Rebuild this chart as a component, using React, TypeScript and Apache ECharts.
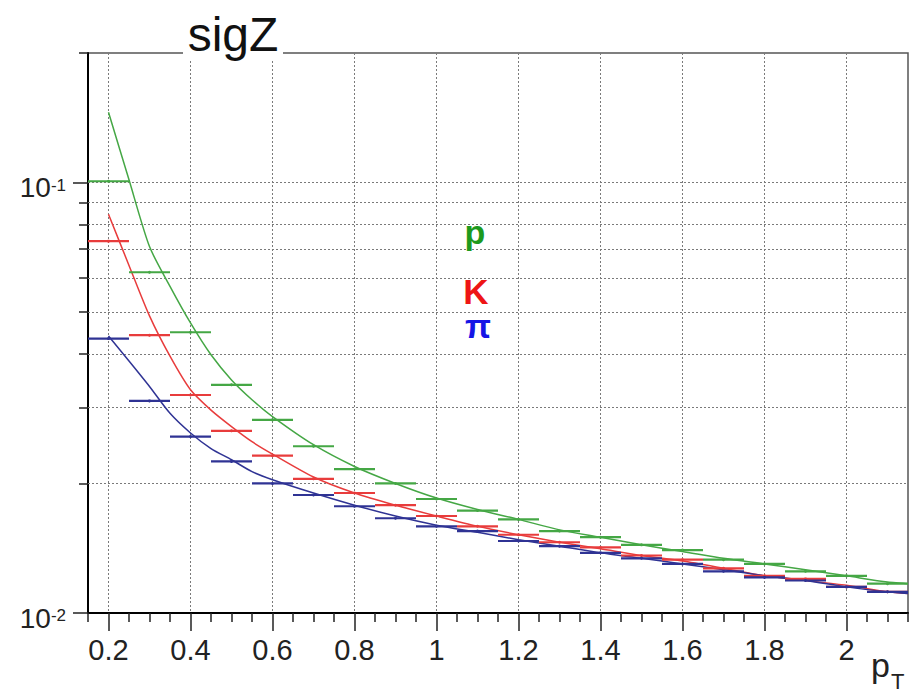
import React, { useEffect, useRef } from "react";
import * as echarts from "echarts";

// ---- data ----
const binCenters = [0.2, 0.3, 0.4, 0.5, 0.6, 0.7, 0.8, 0.9, 1.0, 1.1, 1.2, 1.3, 1.4, 1.5, 1.6, 1.7, 1.8, 1.9, 2.0, 2.1];
const binHalfWidth = 0.05;
const protonBins = [0.1007, 0.0619, 0.0449, 0.0339, 0.0281, 0.0244, 0.0216, 0.0200, 0.0184, 0.0173, 0.0165, 0.0155, 0.0150, 0.0144, 0.0140, 0.0133, 0.0130, 0.0125, 0.0122, 0.0117];
const kaonBins = [0.0731, 0.0442, 0.0321, 0.0265, 0.0232, 0.0205, 0.0190, 0.0178, 0.0168, 0.0159, 0.0152, 0.0146, 0.0142, 0.0136, 0.0133, 0.0127, 0.0122, 0.0120, 0.0115, 0.0112];
const pionBins = [0.0434, 0.0311, 0.0257, 0.0225, 0.0200, 0.0188, 0.0177, 0.0166, 0.0159, 0.0155, 0.0147, 0.0143, 0.0138, 0.0134, 0.0130, 0.0125, 0.0121, 0.0119, 0.0115, 0.0112];

const curveX = [0.2, 0.25, 0.3, 0.35, 0.4, 0.45, 0.5, 0.55, 0.6, 0.7, 0.8, 0.9, 1.0, 1.1, 1.2, 1.3, 1.4, 1.5, 1.6, 1.7, 1.8, 1.9, 2.0, 2.1, 2.15];
const protonCurve = [0.1456, 0.1015, 0.0710, 0.0574, 0.0472, 0.0398, 0.0348, 0.0313, 0.0286, 0.0246, 0.0219, 0.0200, 0.0185, 0.0174, 0.0165, 0.0156, 0.0150, 0.0144, 0.0139, 0.0134, 0.0130, 0.0126, 0.0122, 0.0118, 0.0117];
const kaonCurve = [0.0844, 0.0642, 0.0490, 0.0395, 0.0330, 0.0296, 0.0271, 0.0250, 0.0234, 0.0207, 0.0190, 0.0178, 0.0168, 0.0159, 0.0152, 0.0146, 0.0141, 0.0136, 0.0132, 0.0127, 0.0122, 0.0119, 0.0116, 0.0112, 0.0111];
const pionCurve = [0.0440, 0.0385, 0.0336, 0.0291, 0.0262, 0.0241, 0.0227, 0.0213, 0.0204, 0.0190, 0.0178, 0.0168, 0.0160, 0.0154, 0.0148, 0.0143, 0.0138, 0.0134, 0.0130, 0.0126, 0.0122, 0.0119, 0.0115, 0.0112, 0.0111];

const xMajorTicks = [0.2, 0.4, 0.6, 0.8, 1.0, 1.2, 1.4, 1.6, 1.8, 2.0];
const xMinorTicks = [0.15, 0.25, 0.3, 0.35, 0.45, 0.5, 0.55, 0.65, 0.7, 0.75, 0.85, 0.9, 0.95, 1.05, 1.1, 1.15, 1.25, 1.3, 1.35, 1.45, 1.5, 1.55, 1.65, 1.7, 1.75, 1.85, 1.9, 1.95, 2.05, 2.1, 2.15];
const yMajorTicks = [0.01, 0.1];
const yMinorTicks = [0.02, 0.03, 0.04, 0.05, 0.06, 0.07, 0.08, 0.09, 0.2];
const yGridLines = [0.02, 0.03, 0.04, 0.05, 0.06, 0.07, 0.08, 0.09, 0.1];

const GREEN_LINE = "#45a745";
const RED_LINE = "#e83c3c";
const BLUE_LINE = "#2f3394";
const FONT = "Liberation Sans, Arial, Helvetica, sans-serif";

function pairs(xs: number[], ys: number[]) {
  return xs.map((x, i) => [x, ys[i]]);
}

function histSeries(name: string, values: number[], color: string) {
  return {
    name,
    type: "custom",
    z: 4,
    silent: true,
    clip: false,
    data: pairs(binCenters, values),
    encode: { x: 0, y: 1 },
    renderItem: (_params: any, api: any) => {
      const x = api.value(0);
      const y = api.value(1);
      const a = api.coord([x - binHalfWidth, y]);
      const b = api.coord([x + binHalfWidth, y]);
      const c = api.coord([x, y]);
      return {
        type: "group",
        children: [
          {
            type: "line",
            shape: { x1: a[0], y1: a[1], x2: b[0], y2: b[1] },
            style: { stroke: color, lineWidth: 2.2 },
          },
          {
            type: "circle",
            shape: { cx: c[0], cy: c[1], r: 1.5 },
            style: { fill: color },
          },
        ],
      };
    },
  };
}

function curveSeries(name: string, values: number[], color: string) {
  return {
    name,
    type: "line",
    z: 3,
    silent: true,
    showSymbol: false,
    symbol: "none",
    smooth: 0.25,
    data: pairs(curveX, values),
    lineStyle: { color, width: 1.5 },
  };
}

function yLabel(v: number) {
  const e = Math.round(Math.log10(v));
  if (Math.abs(Math.log10(v) - e) > 1e-6) return "";
  return "{b|10}{s|" + e + "}";
}

export default function App() {
  const ref = useRef<HTMLDivElement>(null);

  useEffect(() => {
    if (!ref.current) return;
    const chart = echarts.init(ref.current, undefined, { renderer: "svg" });
    const gridLine = { color: "#7a7a7a", width: 1, type: [2, 2] as any };

    const option: any = {
      animation: false,
      backgroundColor: "#ffffff",
      grid: {
        left: 88,
        right: 4,
        top: 53,
        bottom: 82,
        show: true,
        borderColor: "#555",
        borderWidth: 1.5,
        backgroundColor: "transparent",
        containLabel: false,
        outerBoundsMode: "none",
      },
      xAxis: [
        {
          type: "value",
          min: 0.15,
          max: 2.15,
          position: "bottom",
          axisLine: { show: true, onZero: false, lineStyle: { color: "#000", width: 2 } },
          axisTick: { show: true, inside: false, length: 18, customValues: xMajorTicks, lineStyle: { color: "#222", width: 1.5 } },
          axisLabel: {
            show: true,
            customValues: xMajorTicks,
            margin: 22,
            fontSize: 29,
            color: "#222",
            fontFamily: FONT,
            formatter: (v: number) => String(Math.round(v * 10) / 10),
          },
          splitLine: { show: true, lineStyle: gridLine },
        },
        {
          type: "value",
          min: 0.15,
          max: 2.15,
          position: "bottom",
          axisLine: { show: false, onZero: false },
          axisTick: { show: true, inside: false, length: 9, customValues: xMinorTicks, lineStyle: { color: "#222", width: 1.5 } },
          axisLabel: { show: false },
          splitLine: { show: false },
        },
      ],
      yAxis: [
        {
          type: "log",
          logBase: 10,
          min: 0.01,
          max: 0.2,
          position: "left",
          axisLine: { show: true, onZero: false, lineStyle: { color: "#000", width: 2 } },
          axisTick: { show: true, inside: false, length: 15, customValues: yMajorTicks, lineStyle: { color: "#222", width: 1.5 } },
          axisLabel: {
            show: true,
            customValues: yMajorTicks,
            margin: 22,
            formatter: yLabel,
            padding: [10, 0, 0, 0],
            rich: {
              b: { fontSize: 28, color: "#222", fontFamily: FONT },
              s: { fontSize: 17, color: "#222", fontFamily: FONT, padding: [0, 0, 5, 0] },
            },
          },
          splitLine: { show: false },
        },
        {
          type: "log",
          logBase: 10,
          min: 0.01,
          max: 0.2,
          position: "left",
          axisLine: { show: false, onZero: false },
          axisTick: { show: true, inside: false, length: 9, customValues: yMinorTicks, lineStyle: { color: "#222", width: 1.5 } },
          axisLabel: { show: false },
          splitLine: { show: false },
        },
      ],
      series: [
        {
          name: "grid",
          type: "line",
          z: 1,
          silent: true,
          data: [],
          markLine: {
            silent: true,
            z: 1,
            symbol: ["none", "none"],
            label: { show: false },
            lineStyle: gridLine,
            emphasis: { disabled: true },
            data: yGridLines.map((v) => ({ yAxis: v })),
          },
        },
        curveSeries("p fit", protonCurve, GREEN_LINE),
        curveSeries("K fit", kaonCurve, RED_LINE),
        curveSeries("π fit", pionCurve, BLUE_LINE),
        histSeries("p", protonBins, GREEN_LINE),
        histSeries("K", kaonBins, RED_LINE),
        histSeries("π", pionBins, BLUE_LINE),
      ],
      graphic: [
        {
          type: "rect",
          z: 50,
          shape: { x: 183, y: 44, width: 100, height: 15 },
          style: { fill: "#ffffff" },
        },
        {
          type: "text",
          z: 51,
          x: 233,
          y: 34,
          style: { text: "sigZ", fontSize: 48, fontFamily: FONT, fill: "#111", align: "center", verticalAlign: "middle" },
        },
        {
          type: "text",
          z: 51,
          x: 475,
          y: 232,
          style: { text: "p", fontSize: 34, fontWeight: "bold", fontFamily: FONT, fill: "#1d9a1d", align: "center", verticalAlign: "middle" },
        },
        {
          type: "text",
          z: 51,
          x: 476,
          y: 291,
          style: { text: "K", fontSize: 35, fontWeight: "bold", fontFamily: FONT, fill: "#ee1515", align: "center", verticalAlign: "middle" },
        },
        {
          type: "text",
          z: 51,
          x: 478,
          y: 326,
          style: { text: "π", fontSize: 34, fontWeight: "bold", fontFamily: FONT, fill: "#1515e6", align: "center", verticalAlign: "middle" },
        },
        {
          type: "text",
          z: 51,
          x: 871,
          y: 665,
          style: { text: "p", fontSize: 34, fontFamily: FONT, fill: "#222", align: "left", verticalAlign: "middle" },
        },
        {
          type: "text",
          z: 51,
          x: 891,
          y: 681,
          style: { text: "T", fontSize: 22, fontFamily: FONT, fill: "#222", align: "left", verticalAlign: "middle" },
        },
      ],
    };

    chart.setOption(option);
    return () => {
      chart.dispose();
    };
  }, []);

  return (
    <div
      ref={ref}
      style={{ position: "fixed", left: 0, top: 0, width: 912, height: 695, background: "#fff" }}
    />
  );
}
